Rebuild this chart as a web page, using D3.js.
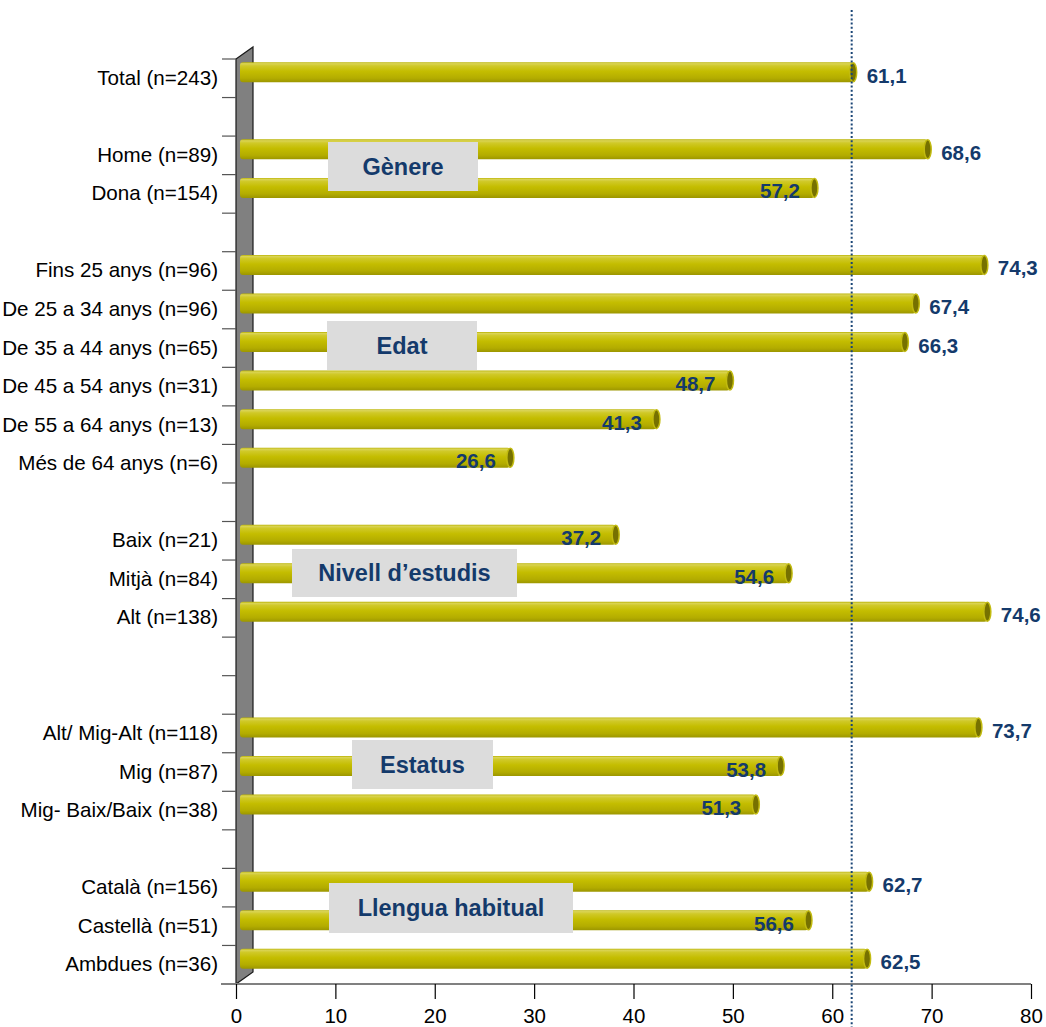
<!DOCTYPE html>
<html><head><meta charset="utf-8">
<script src="https://cdn.jsdelivr.net/npm/d3@7"></script>
<style>html,body{margin:0;padding:0;background:#fff;}svg{display:block;font-family:"Liberation Sans",Arial,sans-serif;}</style>
</head><body>
<svg id="chart" width="1046" height="1027"></svg>
<script>
// ---- data ----
const categories = [
  "Total (n=243)", "",
  "Home (n=89)", "Dona (n=154)", "",
  "Fins 25 anys (n=96)", "De 25 a 34 anys (n=96)", "De 35 a 44 anys (n=65)",
  "De 45 a 54 anys (n=31)", "De 55 a 64 anys (n=13)", "Més de 64 anys (n=6)", "",
  "Baix (n=21)", "Mitjà (n=84)", "Alt (n=138)", "", "",
  "Alt/ Mig-Alt (n=118)", "Mig (n=87)", "Mig- Baix/Baix (n=38)", "",
  "Català (n=156)", "Castellà (n=51)", "Ambdues (n=36)"
];
const values = [
  61.1, null,
  68.6, 57.2, null,
  74.3, 67.4, 66.3, 48.7, 41.3, 26.6, null,
  37.2, 54.6, 74.6, null, null,
  73.7, 53.8, 51.3, null,
  62.7, 56.6, 62.5
];
const xTicks = [0, 10, 20, 30, 40, 50, 60, 70, 80];
const referenceValue = 61.1;
const groupNames = ["Gènere", "Edat", "Nivell d’estudis", "Estatus", "Llengua habitual"];

// ---- layout (pixels) ----
const boxLayout = [
  {x0: 328, x1: 478, y0: 142, y1: 191},
  {x0: 327, x1: 477, y0: 321, y1: 370},
  {x0: 292, x1: 517, y0: 549, y1: 597},
  {x0: 352, x1: 493, y0: 740, y1: 789},
  {x0: 329, x1: 573, y0: 883, y1: 933}
];
const depthX = 17, depthY = -12;
const halfDX = depthX / 2, halfDY = depthY / 2;
const barH = 20;
const navy = "#143A6B";

const svg = d3.select("#chart");
const x = d3.scaleLinear().domain([0, 80]).range([236, 1031]);
const y = d3.scaleBand().domain(d3.range(categories.length)).range([59, 984]).padding(0);

// gradient for cylinders
const defs = svg.append("defs");
const g1 = defs.append("linearGradient").attr("id", "cyl").attr("x1", 0).attr("y1", 0).attr("x2", 0).attr("y2", 1);
[[0, "#B9B200"], [0.07, "#DAD455"], [0.18, "#D0C928"], [0.45, "#C4BD00"], [0.8, "#B3AC00"], [1, "#9C9600"]]
  .forEach(([o, c]) => g1.append("stop").attr("offset", o).attr("stop-color", c));

// wall
const x0 = x(0), yTop = y.range()[0], yBot = y.range()[1];
svg.append("polygon")
  .attr("points", [[x0, yTop], [x0 + depthX, yTop + depthY], [x0 + depthX, yBot + depthY], [x0, yBot]].map(p => p.join(",")).join(" "))
  .attr("fill", "#808080").attr("stroke", "#1a1a1a").attr("stroke-width", 1.2);

// y ticks at band boundaries
const bounds = d3.range(categories.length + 1).map(i => yTop + i * y.step());
svg.append("g").selectAll("line").data(bounds).join("line")
  .attr("x1", x0 - 14).attr("x2", x0).attr("y1", d => d).attr("y2", d => d)
  .attr("stroke", "#555").attr("stroke-width", 1.2);

// category labels
svg.append("g").selectAll("text").data(categories.map((c, i) => ({c, i})).filter(d => d.c))
  .join("text")
  .attr("x", 218).attr("y", d => y(d.i) + y.bandwidth() / 2 + 6.5)
  .attr("text-anchor", "end").attr("font-size", 20.6).attr("fill", "#000")
  .text(d => d.c);

// x axis
const xAxis = svg.append("g").attr("transform", `translate(0,${yBot})`)
  .call(d3.axisBottom(x).tickValues(xTicks).tickSize(15).tickSizeOuter(0).tickPadding(9));
xAxis.select(".domain").attr("stroke", "#808080").attr("stroke-width", 2).attr("d", `M${x0 - 15},0H${x(80)}`);
xAxis.selectAll(".tick line").attr("stroke", "#000").attr("stroke-width", 1.2);
xAxis.selectAll(".tick text").attr("font-size", 20.5).attr("fill", "#000").attr("font-family", "Liberation Sans, Arial, sans-serif");

// bars
const barData = values.map((v, i) => ({v, i})).filter(d => d.v !== null);
const bars = svg.append("g");
bars.selectAll("rect").data(barData).join("rect")
  .attr("x", x(0) + 4)
  .attr("y", d => y(d.i) + y.bandwidth() / 2 + halfDY - barH / 2)
  .attr("width", d => x(d.v) + halfDX + 1.5 - (x(0) + 4))
  .attr("height", barH).attr("rx", 3)
  .attr("fill", "url(#cyl)");
bars.selectAll("ellipse").data(barData).join("ellipse")
  .attr("cx", d => x(d.v) + halfDX + 1.5)
  .attr("cy", d => y(d.i) + y.bandwidth() / 2 + halfDY)
  .attr("rx", 3.5).attr("ry", barH / 2 - 0.5)
  .attr("fill", "#767100").attr("stroke", "#C2BB10").attr("stroke-width", 1.5);

// reference dotted line
svg.append("line")
  .attr("x1", x(referenceValue) + halfDX).attr("x2", x(referenceValue) + halfDX)
  .attr("y1", 10).attr("y2", 1027)
  .attr("stroke", "#1A4576").attr("stroke-width", 2).attr("stroke-dasharray", "2,2.2");

// group boxes
const boxes = svg.append("g");
groupNames.forEach((name, k) => {
  const b = boxLayout[k];
  boxes.append("rect").attr("x", b.x0).attr("y", b.y0).attr("width", b.x1 - b.x0).attr("height", b.y1 - b.y0)
    .attr("fill", "#DCDCDC");
  boxes.append("text").attr("x", (b.x0 + b.x1) / 2).attr("y", (b.y0 + b.y1) / 2 + 8)
    .attr("text-anchor", "middle").attr("font-size", 23.5).attr("font-weight", "bold").attr("fill", navy)
    .text(name);
});

// value labels
const fmt = v => d3.format(".1f")(v).replace(".", ",");
svg.append("g").selectAll("text").data(barData).join("text")
  .attr("x", d => d.v > 60 ? x(d.v) + halfDX + 15 : x(d.v) + halfDX - 13)
  .attr("y", d => y(d.i) + y.bandwidth() / 2 + halfDY + 10.5)
  .attr("text-anchor", d => d.v > 60 ? "start" : "end")
  .attr("font-size", 20.5).attr("font-weight", "bold").attr("fill", navy)
  .text(d => fmt(d.v));
</script>
</body></html>
